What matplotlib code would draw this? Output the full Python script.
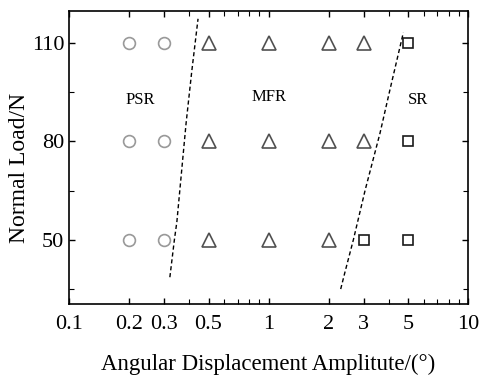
import matplotlib.pyplot as plt
from matplotlib.ticker import FixedLocator, NullFormatter
import numpy as np

plt.rcParams['font.family'] = ['Liberation Serif', 'DejaVu Serif']

# regime data
psr_x = [0.2, 0.3, 0.2, 0.3, 0.2, 0.3]
psr_y = [110, 110, 80, 80, 50, 50]
mfr_x = [0.5, 1, 2, 3, 0.5, 1, 2, 3, 0.5, 1, 2]
mfr_y = [110, 110, 110, 110, 80, 80, 80, 80, 50, 50, 50]
sr_x = [5, 5, 3, 5]
sr_y = [110, 80, 50, 50]

# boundary lines
b1_x = [0.32, 0.337, 0.347, 0.386, 0.412, 0.443]
b1_y = [38.7, 50, 55.6, 85.6, 101.3, 117.3]
b2_x = [2.30, 2.41, 2.66, 3.05, 3.62, 4.06, 4.74]
b2_y = [35.1, 40, 50, 65.2, 82.5, 95.7, 113.1]

xticks = [0.1, 0.2, 0.3, 0.5, 1, 2, 3, 5, 10]
xticklabels = ['0.1', '0.2', '0.3', '0.5', '1', '2', '3', '5', '10']

fig, ax = plt.subplots(figsize=(4.8, 3.76), dpi=100)
fig.subplots_adjust(left=0.144, right=0.975, top=0.971, bottom=0.191)

ax.plot(psr_x, psr_y, 'o', ms=8.5, mfc='none', mec='#999999', mew=1.2, ls='none')
ax.plot(mfr_x, mfr_y, '^', ms=9.5, mfc='none', mec='#505050', mew=1.2, ls='none')
ax.plot(sr_x, sr_y, 's', ms=7.8, mfc='none', mec='#1a1a1a', mew=1.2, ls='none')

ax.plot(b1_x, b1_y, color='black', lw=1, ls=(0, (3, 2)))
ax.plot(b2_x, b2_y, color='black', lw=1, ls=(0, (3, 2)))

ax.text(0.227, 92.6, 'PSR', ha='center', va='center', fontsize=12)
ax.text(1.0, 93.5, 'MFR', ha='center', va='center', fontsize=12)
ax.text(5.6, 92.6, 'SR', ha='center', va='center', fontsize=12)

ax.set_xscale('log')
ax.set_xlim(0.1, 10)
ax.set_ylim(30.5, 119.7)
ax.xaxis.set_major_locator(FixedLocator(xticks))
ax.set_xticklabels(xticklabels)
minor = [v * d for d in [0.1, 1] for v in [4, 6, 7, 8, 9]]
ax.xaxis.set_minor_locator(FixedLocator(minor))
ax.xaxis.set_minor_formatter(NullFormatter())
ax.yaxis.set_major_locator(FixedLocator([50, 80, 110]))
ax.yaxis.set_minor_locator(FixedLocator([35, 65, 95]))

ax.tick_params(which='both', direction='in', top=True, right=True, labelsize=16)
ax.tick_params(which='major', length=4.5, width=1)
ax.tick_params(which='minor', length=3.5, width=0.8)
ax.tick_params(axis='x', pad=8)
for s in ax.spines.values():
    s.set_linewidth(1.2)

ax.set_xlabel('Angular Displacement Amplitute/(°)', fontsize=16.5, labelpad=14)
ax.set_ylabel('Normal Load/N', fontsize=17)
ax.yaxis.set_label_coords(-0.098, 0.464)

fig.savefig('out.png', dpi=100)
